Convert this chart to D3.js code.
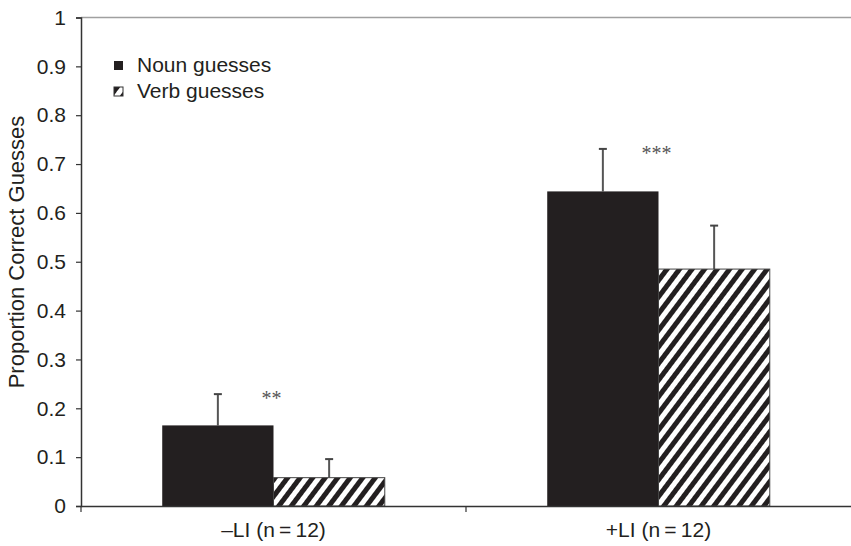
<!DOCTYPE html>
<html>
<head>
<meta charset="utf-8">
<script src="https://cdn.jsdelivr.net/npm/d3@7"></script>
<style>
  html, body { margin: 0; padding: 0; background: #fff; }
  svg { display: block; }
</style>
</head>
<body>
<svg id="chart" width="851" height="546"></svg>
<script>
const categories = ["\u2013LI (n\u2009=\u200912)", "+LI (n\u2009=\u200912)"];
const seriesNames = ["Noun guesses", "Verb guesses"];
const nounValues = [0.165, 0.644];
const verbValues = [0.058, 0.485];
const nounErrors = [0.064, 0.087];
const verbErrors = [0.038, 0.089];
const significance = ["**", "***"];
const yTicks = [0, 0.1, 0.2, 0.3, 0.4, 0.5, 0.6, 0.7, 0.8, 0.9, 1];

const svg = d3.select("#chart");
const mLeft = 81, mRight = 851, mTop = 17.5, mBottom = 506;
const ink = "#231f20";

const defs = svg.append("defs");
const pat = defs.append("pattern")
  .attr("id", "hatch")
  .attr("patternUnits", "userSpaceOnUse")
  .attr("width", 10).attr("height", 10)
  .attr("patternTransform", "rotate(37)");
pat.append("rect").attr("width", 10).attr("height", 10).attr("fill", "#fff");
pat.append("rect").attr("x", 0).attr("y", 0).attr("width", 5).attr("height", 10).attr("fill", ink);

const y = d3.scaleLinear().domain([0, 1]).range([mBottom, mTop]);
const x0 = d3.scaleBand().domain(categories).range([mLeft, mRight]).padding(0);
const x1 = d3.scaleBand().domain(seriesNames).range([0, x0.bandwidth()]).paddingInner(0).paddingOuter(0.73);

svg.append("line")
  .attr("x1", mLeft).attr("x2", mRight)
  .attr("y1", y(1)).attr("y2", y(1))
  .attr("stroke", "#a0a0a0").attr("stroke-width", 1.5);

const data = categories.map((c, i) => ({
  cat: c,
  vals: [
    {s: seriesNames[0], v: nounValues[i], e: nounErrors[i]},
    {s: seriesNames[1], v: verbValues[i], e: verbErrors[i]}
  ],
  sig: significance[i]
}));

const groups = svg.selectAll("g.grp").data(data).enter().append("g")
  .attr("class", "grp")
  .attr("transform", d => `translate(${x0(d.cat)},0)`);

groups.selectAll("g.err").data(d => d.vals).enter().append("g").attr("class", "err")
  .each(function(d) {
    const g = d3.select(this);
    const cx = x1(d.s) + x1.bandwidth() / 2;
    g.append("line")
      .attr("x1", cx).attr("x2", cx)
      .attr("y1", y(d.v)).attr("y2", y(d.v + d.e))
      .attr("stroke", "#555").attr("stroke-width", 2);
    g.append("line")
      .attr("x1", cx - 4).attr("x2", cx + 4)
      .attr("y1", y(d.v + d.e)).attr("y2", y(d.v + d.e))
      .attr("stroke", "#444").attr("stroke-width", 2);
  });

groups.selectAll("rect.bar").data(d => d.vals).enter().append("rect")
  .attr("class", "bar")
  .attr("x", d => x1(d.s))
  .attr("width", x1.bandwidth())
  .attr("y", d => y(d.v))
  .attr("height", d => y(0) - y(d.v))
  .attr("fill", (d, i) => i === 0 ? ink : "url(#hatch)")
  .attr("stroke", (d, i) => i === 0 ? "none" : "#444")
  .attr("stroke-width", 1);

groups.append("text")
  .attr("x", d => x1(seriesNames[1]) - 2)
  .attr("y", d => y(d.vals[0].v + d.vals[0].e) + 11)
  .attr("text-anchor", "middle")
  .attr("font-family", "'Liberation Serif', 'DejaVu Serif', serif")
  .attr("font-size", 20)
  .attr("fill", "#555")
  .text(d => d.sig);

const yAxis = d3.axisLeft(y).tickValues(yTicks).tickSize(5).tickPadding(10)
  .tickFormat(d => d === 0 ? "0" : d === 1 ? "1" : d3.format(".1f")(d));
const ya = svg.append("g").attr("transform", `translate(${mLeft},0)`).call(yAxis);
ya.select(".domain").attr("stroke", "#333").attr("stroke-width", 1.5);
ya.selectAll(".tick line").attr("stroke", "#333").attr("stroke-width", 1.2);
ya.selectAll(".tick text")
  .attr("font-family", "'Liberation Sans', Arial, sans-serif")
  .attr("font-size", 21).attr("fill", ink);

const xAxis = d3.axisBottom(x0).tickSize(0).tickPadding(16);
const xa = svg.append("g").attr("transform", `translate(0,${mBottom})`).call(xAxis);
xa.select(".domain").attr("stroke", "#333").attr("stroke-width", 1.5);
xa.selectAll(".tick text")
  .attr("font-family", "'Liberation Sans Narrow', 'Liberation Sans', Arial, sans-serif")
  .attr("font-size", 21).attr("fill", ink);
const seps = [x0.range()[0], x0(categories[1])];
xa.selectAll("line.sep").data(seps).enter().append("line")
  .attr("class", "sep")
  .attr("x1", d => d).attr("x2", d => d)
  .attr("y1", 0).attr("y2", 6)
  .attr("stroke", "#333").attr("stroke-width", 1.2);

svg.append("text")
  .attr("transform", `translate(24,252) rotate(-90)`)
  .attr("text-anchor", "middle")
  .attr("font-family", "'Liberation Sans', Arial, sans-serif")
  .attr("font-size", 22).attr("fill", ink)
  .text("Proportion Correct Guesses");

const legend = svg.append("g").attr("transform", "translate(114,61)");
const li = legend.selectAll("g").data(seriesNames).enter().append("g")
  .attr("transform", (d, i) => `translate(0,${i * 26})`);
li.append("rect")
  .attr("width", 9).attr("height", 9)
  .attr("fill", (d, i) => i === 0 ? ink : "url(#hatch)")
  .attr("stroke", (d, i) => i === 0 ? "none" : "#333")
  .attr("stroke-width", 1);
li.append("text")
  .attr("x", 23).attr("y", 10.5)
  .attr("font-family", "'Liberation Sans', Arial, sans-serif")
  .attr("font-size", 21).attr("fill", ink)
  .text(d => d);
</script>
</body>
</html>
